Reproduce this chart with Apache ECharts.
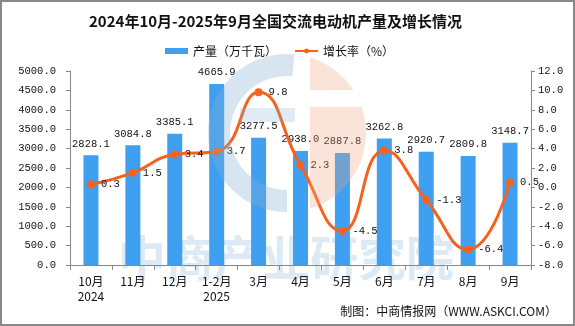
<!DOCTYPE html>
<html><head><meta charset="utf-8">
<script src="https://cdn.jsdelivr.net/npm/echarts@6/dist/echarts.min.js"></script>
<style>html,body{margin:0;padding:0;background:#fff}#c{width:575px;height:326px}</style>
</head><body><div id="c"></div>
<script>
var categories = ['10月\n2024','11月','12月','1-2月\n2025','3月','4月','5月','6月','7月','8月','9月'];
var output = [2828.1, 3084.8, 3385.1, 4665.9, 3277.5, 2938.0, 2887.8, 3262.8, 2920.7, 2809.8, 3148.7];
var growth = [0.3, 1.5, 3.4, 3.7, 9.8, 2.3, -4.5, 3.8, -1.3, -6.4, 0.5];
var titleText = '2024年10月-2025年9月全国交流电动机产量及增长情况';
var seriesNames = ['产量（万千瓦）', '增长率（%）'];
var sourceText = '制图：中商情报网（WWW.ASKCI.COM）';

// decorative watermark logo geometry (not data)
function segPoly(cx, cy, r, xMin, yMin, yMax) {
  var pts = [];
  for (var i = 0; i <= 120; i++) {
    var a = -Math.PI / 2 + Math.PI * i / 120;
    var x = cx + r * Math.cos(a), y = cy + r * Math.sin(a);
    if (x >= xMin && y >= yMin && y <= yMax) pts.push([x, y]);
  }
  if (pts.length) {
    pts.push([xMin, pts[pts.length - 1][1]]);
    pts.unshift([xMin, pts[0][1]]);
  }
  return pts;
}
var LX = 287, LY = 133, LR = 79;

var chart = echarts.init(document.getElementById('c'), null, {renderer:'canvas'});
var numFont = 'Liberation Mono, DejaVu Sans Mono, monospace';
var cjkFont = 'Noto Sans CJK SC, sans-serif';
chart.setOption({
  animation:false,
  backgroundColor:'#fff',
  title:{text:titleText, left:84, top:9, textStyle:{fontFamily:cjkFont, fontSize:15, fontWeight:'bold', color:'#111'}},
  legend:{left:160, top:40, itemWidth:23, itemHeight:6, itemGap:17,
    textStyle:{fontFamily:cjkFont, fontSize:12, color:'#111'},
    data:[{name:seriesNames[0], icon:'rect'}, {name:seriesNames[1]}]},
  grid:{left:70, right:44, top:71, bottom:61},
  xAxis:{type:'category', data:categories,
    axisLine:{lineStyle:{color:'#888'}},
    axisTick:{show:true, length:5, lineStyle:{color:'#888'}},
    axisLabel:{color:'#111', fontFamily:cjkFont, fontSize:12, margin:9, lineHeight:15, interval:0}},
  yAxis:[
    {type:'value', min:0, max:5000, interval:500, splitLine:{show:false},
     axisLine:{show:true, lineStyle:{color:'#888'}}, axisTick:{show:true, length:4, lineStyle:{color:'#888'}},
     axisLabel:{color:'#111', fontFamily:numFont, fontSize:10.5, margin:14, formatter:function(v){return v.toFixed(1);}}},
    {type:'value', min:-8, max:12, interval:2, splitLine:{show:false},
     axisLine:{show:true, lineStyle:{color:'#888'}}, axisTick:{show:true, length:4, lineStyle:{color:'#888'}},
     axisLabel:{color:'#111', fontFamily:numFont, fontSize:10.5, margin:7, formatter:function(v){return v.toFixed(1);}}}
  ],
  graphic:[
    {type:'text', z:-10, left:118, top:234, style:{text:'中商产业研究院', font:'bold 48px Noto Sans CJK SC', fill:'rgba(175,208,232,0.45)'}},
    {type:'sector', z:100, silent:true, shape:{cx:LX, cy:LY, r:LR, r0:57, startAngle:Math.PI*0.5, endAngle:Math.PI*1.53}, style:{fill:'rgba(130,175,210,0.32)'}},
    {type:'rect', z:100, silent:true, shape:{x:240, y:108, width:55, height:14}, style:{fill:'rgba(130,175,210,0.25)'}},
    {type:'polygon', z:100, silent:true, shape:{points:segPoly(LX, LY, LR, 310, 55, 90)}, style:{fill:'rgba(240,165,130,0.3)'}},
    {type:'polygon', z:100, silent:true, shape:{points:segPoly(LX, LY, LR, 310, 106, 212)}, style:{fill:'rgba(240,165,130,0.3)'}},
    {type:'rect', z:200, shape:{x:1, y:1, width:573, height:324}, style:{fill:'none', stroke:'#888', lineWidth:2}},
    {type:'text', right:18, top:305, style:{text:sourceText, font:'12px Noto Sans CJK SC', fill:'#111'}}
  ],
  series:[
    {name:seriesNames[0], type:'bar', data:output, barWidth:15, itemStyle:{color:'#3f9ff1'},
     label:{show:true, position:'top', distance:6, color:'#111', fontFamily:numFont, fontSize:10.5, formatter:function(p){return p.value.toFixed(1);}}},
    {name:seriesNames[1], type:'line', yAxisIndex:1, data:growth, smooth:true, symbol:'circle', symbolSize:8,
     lineStyle:{color:'#f5621e', width:3}, itemStyle:{color:'#f5621e'},
     label:{show:true, position:'right', distance:6, color:'#111', fontFamily:numFont, fontSize:10.5, formatter:function(p){return p.value.toFixed(1);}}}
  ]
});
</script></body></html>
